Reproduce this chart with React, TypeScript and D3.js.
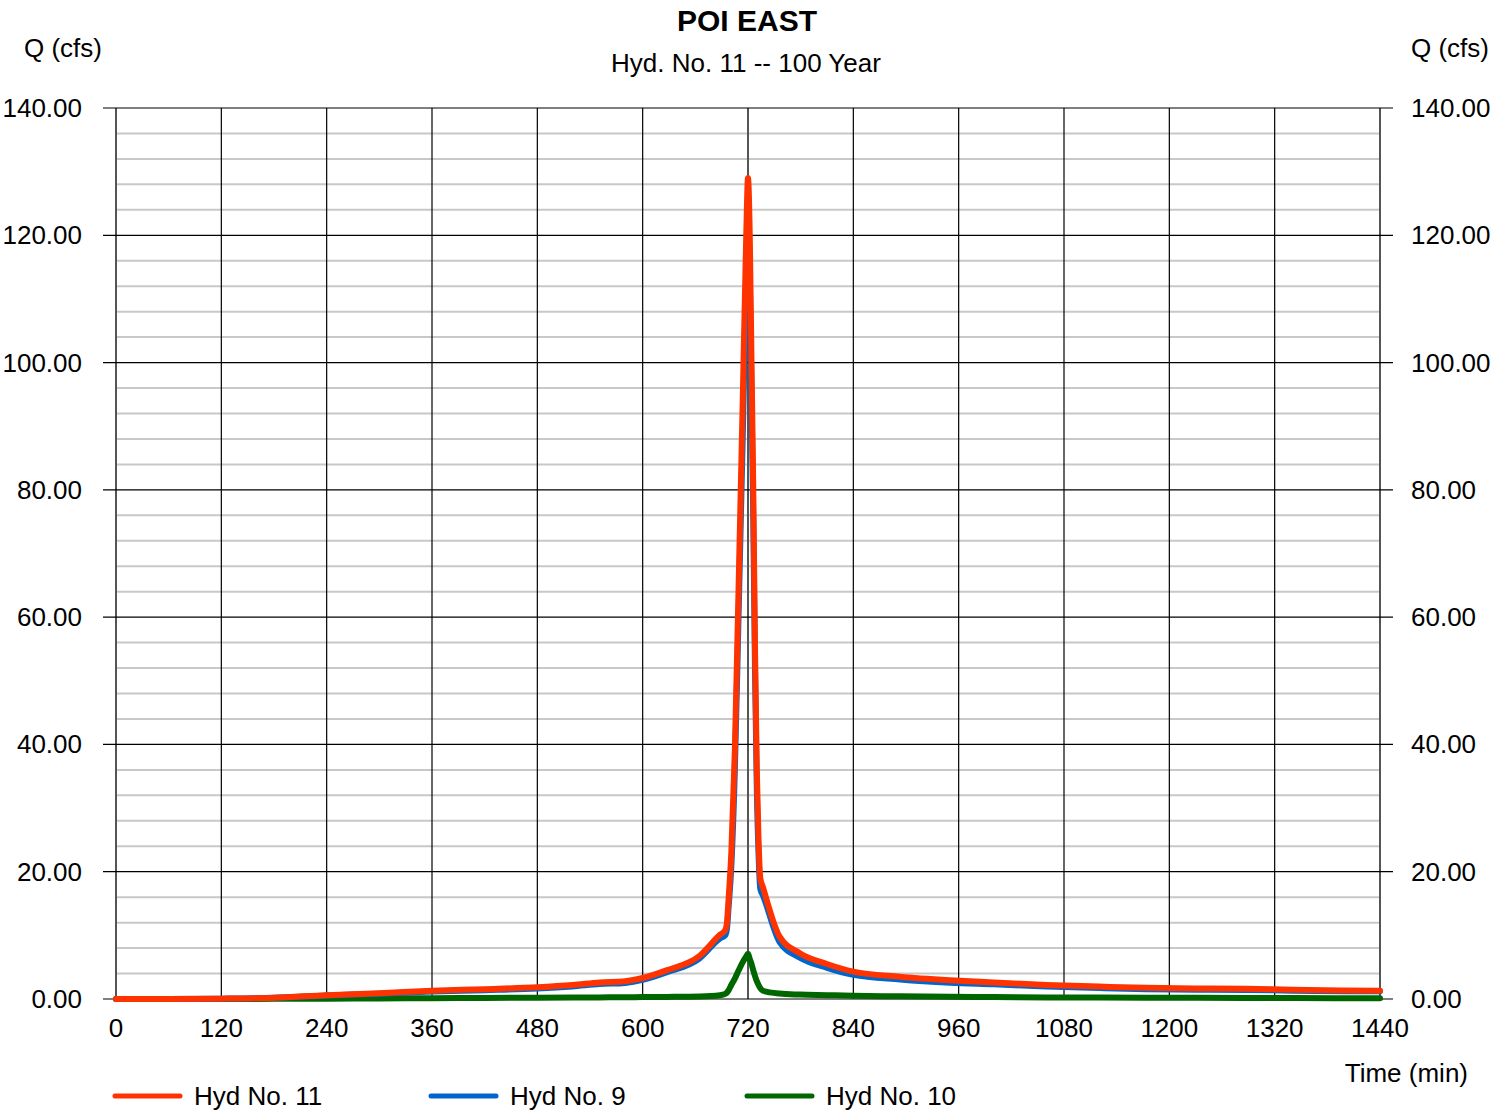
import React from "react";
import * as d3 from "d3";

// ---- Data ----
const timeMin = [0, 60, 120, 180, 240, 300, 360, 420, 480, 520, 551, 580, 600, 627, 665, 688, 694, 696, 698, 701, 705, 709, 714, 718, 720, 722, 724, 726, 728, 730, 732, 734, 737, 756, 779, 810, 840, 893, 950, 1000, 1060, 1120, 1174, 1230, 1288, 1340, 1398, 1440];
const hyd11 = [0, 0, 0.05, 0.2, 0.6, 0.9, 1.3, 1.55, 1.85, 2.2, 2.6, 2.8, 3.3, 4.5, 6.8, 10.1, 10.8, 12, 16, 23, 39, 63, 94, 120, 129, 120, 100, 80, 55, 36, 25, 19, 17.6, 9.8, 7.2, 5.5, 4.3, 3.5, 2.95, 2.6, 2.2, 1.95, 1.75, 1.65, 1.6, 1.45, 1.35, 1.3];
const hyd9 = [0, 0, 0.05, 0.18, 0.55, 0.82, 1.18, 1.39, 1.65, 1.98, 2.35, 2.53, 3.0, 4.17, 6.4, 9.5, 10.0, 11.0, 14.6, 20.8, 35.8, 58.6, 88.2, 113.3, 121.9, 113.7, 94.5, 75.5, 51.4, 33.2, 22.8, 17.3, 16.3, 8.95, 6.5, 4.9, 3.8, 3.08, 2.57, 2.3, 1.95, 1.72, 1.55, 1.47, 1.43, 1.3, 1.22, 1.2];
const hyd10 = [0, 0, 0, 0.02, 0.05, 0.08, 0.12, 0.16, 0.2, 0.22, 0.25, 0.27, 0.3, 0.33, 0.4, 0.6, 0.8, 1.0, 1.4, 2.2, 3.2, 4.4, 5.8, 6.7, 7.1, 6.3, 5.5, 4.5, 3.6, 2.8, 2.2, 1.7, 1.3, 0.85, 0.7, 0.6, 0.5, 0.42, 0.36, 0.3, 0.25, 0.22, 0.2, 0.18, 0.16, 0.14, 0.12, 0.1];

const xTicks = [0, 120, 240, 360, 480, 600, 720, 840, 960, 1080, 1200, 1320, 1440];
const yMajor = [0, 20, 40, 60, 80, 100, 120, 140];
const yMinor = d3.range(0, 141, 4).filter((v) => v % 20 !== 0);

const seriesNames = ["Hyd No. 11", "Hyd No. 9", "Hyd No. 10"];
const seriesColors = ["#FF3300", "#0066CC", "#006600"];

const title = "POI EAST";
const subtitle = "Hyd. No. 11 -- 100 Year";

const W = 1491;
const H = 1112;
const FONT = "'Liberation Sans', Arial, sans-serif";

export default function App() {
  const x = d3.scaleLinear().domain([0, 1440]).range([116, 1380]);
  const y = d3.scaleLinear().domain([0, 140]).range([999, 108]);

  const mk = (vals: number[]) =>
    d3
      .line<number>()
      .x((_, i) => x(timeMin[i]))
      .y((d) => y(d))
      .curve(d3.curveMonotoneX)(vals) as string;

  const series = [hyd11, hyd9, hyd10];
  const drawOrder = [2, 1, 0];

  const legendX = [115, 431, 747];

  return (
    <svg
      width={W}
      height={H}
      style={{ position: "absolute", left: 0, top: 0, background: "#fff" }}
      fontFamily={FONT}
    >
      <rect x={0} y={0} width={W} height={H} fill="#fff" />
      {/* minor grid */}
      {yMinor.map((v) => (
        <line key={"mi" + v} x1={116} x2={1380} y1={y(v)} y2={y(v)} stroke="#c8c8c8" strokeWidth={2} />
      ))}
      {/* vertical grid */}
      {xTicks.map((t) => {
        const edge = t === 0 || t === 1440 || t === 720;
        return (
          <line
            key={"vx" + t}
            x1={x(t)}
            x2={x(t)}
            y1={108}
            y2={999}
            stroke={edge ? "#555" : "#000"}
            strokeWidth={edge ? 2 : 1.2}
          />
        );
      })}
      {/* major grid with ticks */}
      {yMajor.map((v) => (
        <line key={"ma" + v} x1={103} x2={1393} y1={y(v)} y2={y(v)} stroke="#000" strokeWidth={1.2} />
      ))}
      {/* y labels */}
      {yMajor.map((v) => (
        <text key={"yl" + v} x={82} y={y(v) + 9} fontSize={26} textAnchor="end" fill="#000">
          {v.toFixed(2)}
        </text>
      ))}
      {yMajor.map((v) => (
        <text key={"yr" + v} x={1411} y={y(v) + 9} fontSize={26} textAnchor="start" fill="#000">
          {v.toFixed(2)}
        </text>
      ))}
      {/* x labels */}
      {xTicks.map((t) => (
        <text key={"xl" + t} x={x(t)} y={1037} fontSize={26} textAnchor="middle" fill="#000">
          {t}
        </text>
      ))}
      {/* axis titles */}
      <text x={24} y={57} fontSize={26} fill="#000">Q (cfs)</text>
      <text x={1411} y={57} fontSize={26} fill="#000">Q (cfs)</text>
      <text x={1468} y={1082} fontSize={26} textAnchor="end" fill="#000">Time (min)</text>
      <text x={747} y={31} fontSize={30} fontWeight="bold" textAnchor="middle" fill="#000">{title}</text>
      <text x={746} y={72} fontSize={26} textAnchor="middle" fill="#000">{subtitle}</text>

      {/* series */}
      {drawOrder.map((i) => (
        <path
          key={"s" + i}
          d={mk(series[i])}
          fill="none"
          stroke={seriesColors[i]}
          strokeWidth={6}
          strokeLinejoin="round"
          strokeLinecap="round"
        />
      ))}

      {/* legend */}
      {seriesNames.map((n, i) => (
        <g key={"lg" + i}>
          <line x1={legendX[i]} x2={legendX[i] + 65} y1={1096} y2={1096} stroke={seriesColors[i]} strokeWidth={5} strokeLinecap="round" />
          <text x={legendX[i] + 79} y={1105} fontSize={26} fill="#000">{n}</text>
        </g>
      ))}
    </svg>
  );
}
